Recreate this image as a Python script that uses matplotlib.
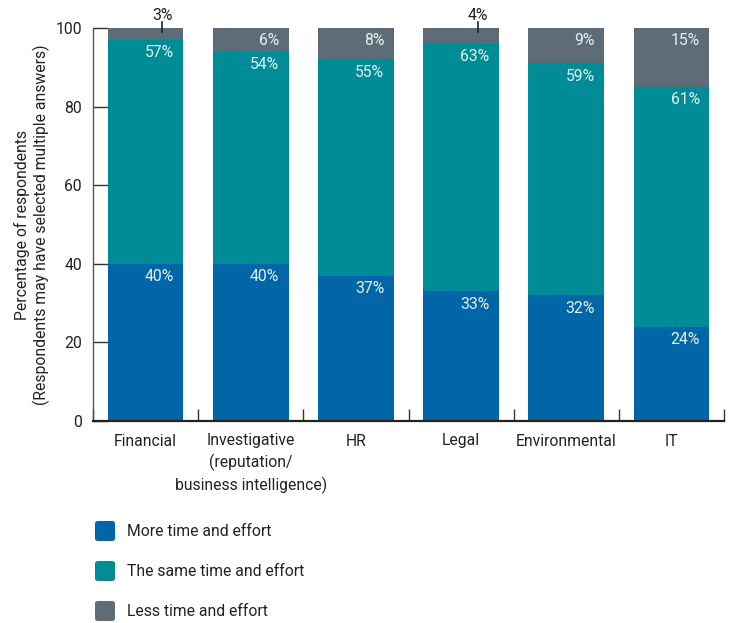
import matplotlib
matplotlib.use("Agg")
import matplotlib.pyplot as plt
from matplotlib.patches import FancyBboxPatch
import numpy as np

categories = ["Financial", "Investigative\n(reputation/\nbusiness intelligence)", "HR",
              "Legal", "Environmental", "IT"]
more = [40, 40, 37, 33, 32, 24]
same = [57, 54, 55, 63, 59, 61]
less = [3, 6, 8, 4, 9, 15]
series_names = ["More time and effort", "The same time and effort", "Less time and effort"]
colors = ["#0066a8", "#008c96", "#5e6c78"]
y_ticks = [0, 20, 40, 60, 80, 100]

plt.rcParams['font.family'] = ['Roboto', 'DejaVu Sans']
FS = 11.3

fig = plt.figure(figsize=(7.34, 6.23), dpi=100)
ax = fig.add_axes([93/734, 1-421/623, 631/734, (421-28)/623])

x = np.arange(len(categories))
w = 0.72
series = [more, same, less]
bottom = np.zeros(len(categories))
for vals, col in zip(series, colors):
    ax.bar(x, vals, w, bottom=bottom, color=col, zorder=2)
    for i, v in enumerate(vals):
        top = bottom[i] + v
        if v >= 5:
            ax.text(x[i] + w/2 - 0.09, top - 3.3, f"{v}%", ha='right', va='center',
                    color='#e6f2f2', fontsize=FS, zorder=3)
        else:
            ax.plot([x[i] + 0.16, x[i] + 0.16], [top - 1.0, top + 1.4], color='#222222',
                    lw=1.2, zorder=3, clip_on=False)
            ax.text(x[i] + 0.16, top + 3.1, f"{v}%", ha='center', va='center',
                    color='#222222', fontsize=FS, clip_on=False)
    bottom += np.array(vals)

ax.set_xlim(-0.5, len(categories) - 0.5)
ax.set_ylim(0, 100)
ax.set_yticks(y_ticks)
ax.set_xticks(x)
ax.set_xticklabels(categories, fontsize=FS, color='#222222', linespacing=1.4)
ax.set_xticks(np.arange(-0.5, len(categories)), minor=True)
ax.tick_params(axis='x', which='major', length=0, pad=9)
ax.tick_params(axis='x', which='minor', direction='in', length=9, width=1, color='#333333')
ax.tick_params(axis='y', direction='in', length=11, width=1, color='#333333',
               labelsize=FS, labelcolor='#222222', pad=8)
for s in ['top', 'right']:
    ax.spines[s].set_visible(False)
ax.spines['left'].set_color('#555555')
ax.spines['left'].set_linewidth(1)
ax.spines['bottom'].set_color('#222222')
ax.spines['bottom'].set_linewidth(1.6)
ax.set_ylabel("Percentage of respondents\n(Respondents may have selected multiple answers)",
              fontsize=FS, color='#222222', labelpad=4, linespacing=1.15)

# legend
rows_y = [531, 571, 611]
for name, col, yy in zip(series_names, colors, rows_y):
    box = FancyBboxPatch((95/734, 1-(yy+10)/623), 20/734, 20/623,
                         boxstyle="round,pad=0,rounding_size=0.004",
                         transform=fig.transFigure, facecolor=col, edgecolor='none')
    fig.add_artist(box)
    fig.text(127/734, 1-yy/623, name, ha='left', va='center', fontsize=FS, color='#222222')

fig.savefig("out.png", dpi=100)
